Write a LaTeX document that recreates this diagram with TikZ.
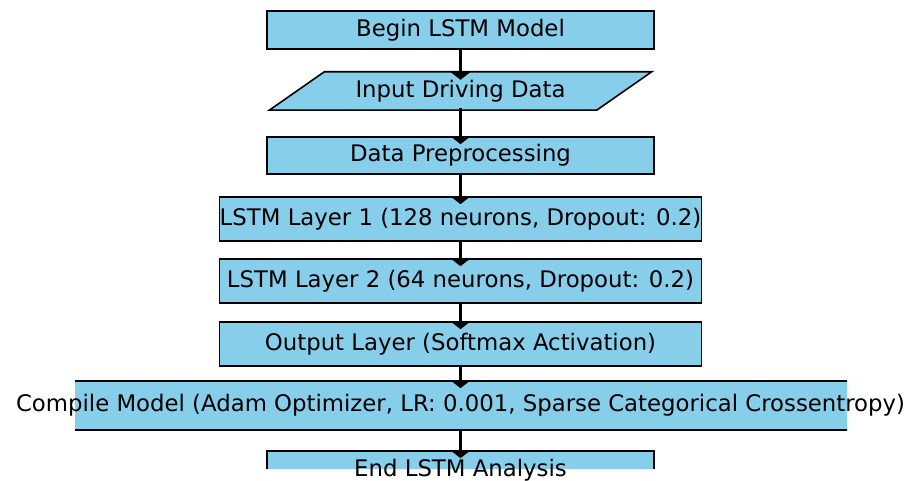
\documentclass[tikz,border=0pt]{standalone}
\usepackage{fontspec}
\setmainfont{DejaVu Sans}
\usetikzlibrary{arrows.meta}
\definecolor{skyblue}{HTML}{87CEEB}
\begin{document}
\begin{tikzpicture}[x=1pt,y=-1pt,line join=miter,font=\fontsize{22.8}{27}\selectfont,
	box/.style={draw=black,line width=1.6pt,fill=skyblue,inner sep=0pt},
	lbl/.style={inner sep=0pt,text=black},
	flow/.style={-{Triangle[width=20pt,length=8pt]},line width=2.6pt,shorten <=-2pt,shorten >=-8pt}]
	\useasboundingbox (0,0) rectangle (910,481);
	\begin{scope}
		\clip (75,0) rectangle (847,468);
		\node[box,minimum width=387pt,minimum height=38pt] (begin) at (460.5,30) {};
		\node[inner sep=0pt,minimum width=382pt,minimum height=38pt] (input) at (460.5,91) {};
		\draw[box] ([xshift=55pt]input.north west)--(input.north east)--([xshift=-55pt]input.south east)--(input.south west)--cycle;
		\node[box,minimum width=387pt,minimum height=37pt] (prep) at (460.5,155.5) {};
		\node[box,minimum width=482pt,minimum height=44pt] (lstma) at (460.5,219) {};
		\node[box,minimum width=482pt,minimum height=44pt] (lstmb) at (460.5,281) {};
		\node[box,minimum width=482pt,minimum height=44pt] (output) at (460.5,344) {};
		\node[box,minimum width=900pt,minimum height=49pt] (compile) at (460.5,405.5) {};
		\node[box,minimum width=387pt,minimum height=38pt] (end) at (460.5,470) {};
	\end{scope}
	\node[lbl] at (begin) {Begin LSTM Model};
	\node[lbl] at (input) {Input Driving Data};
	\node[lbl] at (prep) {Data Preprocessing};
	\node[lbl] at (lstma) {LSTM Layer 1 (128 neurons, Dropout: 0.2)};
	\node[lbl] at (lstmb) {LSTM Layer 2 (64 neurons, Dropout: 0.2)};
	\node[lbl] at (output) {Output Layer (Softmax Activation)};
	\node[lbl] at (compile) {Compile Model (Adam Optimizer, LR: 0.001, Sparse Categorical Crossentropy)};
	\node[lbl] at (end) {End LSTM Analysis};
	\draw[flow] (begin.south)--(input.north);
	\draw[flow] (input.south)--(prep.north);
	\draw[flow] (prep.south)--(lstma.north);
	\draw[flow] (lstma.south)--(lstmb.north);
	\draw[flow] (lstmb.south)--(output.north);
	\draw[flow] (output.south)--(compile.north);
	\draw[flow] (compile.south)--(end.north);
\end{tikzpicture}
\end{document}
